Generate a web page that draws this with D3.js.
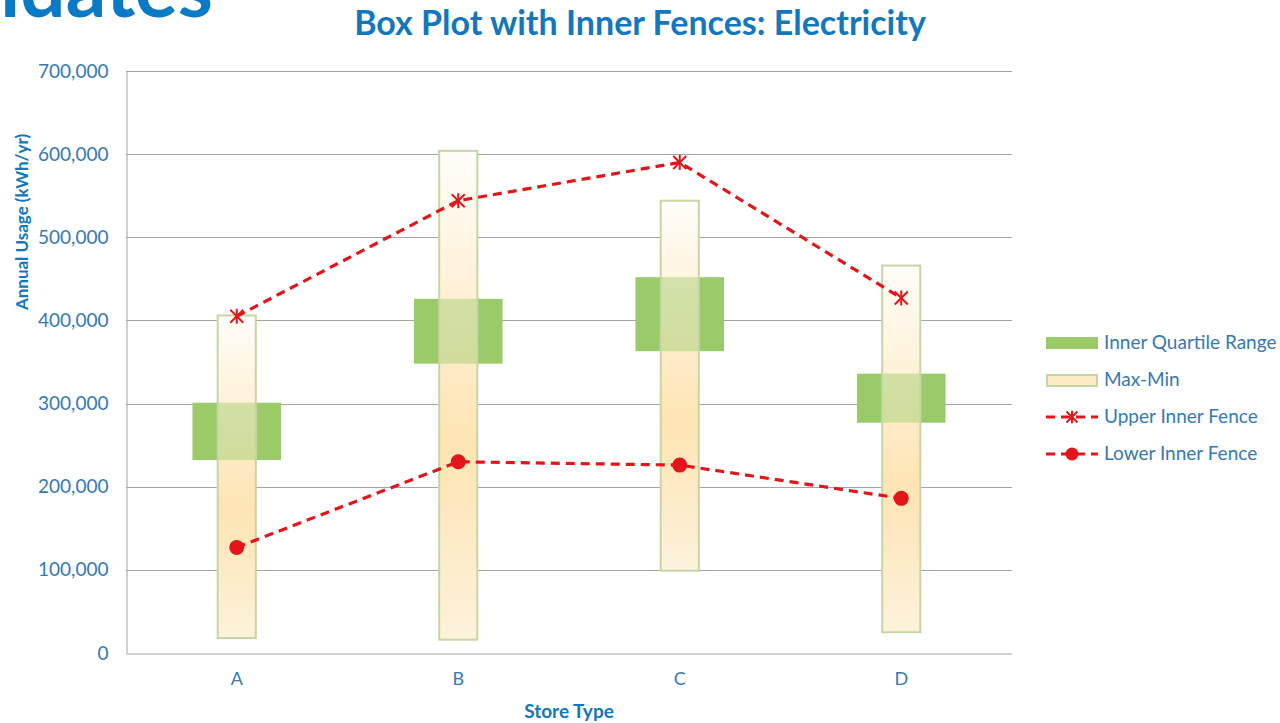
<!DOCTYPE html>
<html>
<head>
<meta charset="utf-8">
<script src="https://cdn.jsdelivr.net/npm/d3@7"></script>
<style>
  html, body { margin: 0; padding: 0; background: #fff; }
  svg { display: block; }
</style>
</head>
<body>
<svg id="chart" width="1280" height="723"></svg>
<script>
// Electricity usage by store type
const categories = ["A", "B", "C", "D"];
const maxValues = [406000, 604000, 544000, 466000];
const minValues = [18000, 16000, 99000, 25000];
const q3Values = [301000, 426000, 452000, 336000];
const q1Values = [232000, 348000, 363000, 277000];
const upperFence = [405000, 544000, 590000, 427000];
const lowerFence = [127000, 230000, 226000, 186000];
const yTicks = [0, 100000, 200000, 300000, 400000, 500000, 600000, 700000];

const svg = d3.select("#chart");
const font = "Lato, 'Open Sans', sans-serif";
const blue = "#3579b3";
const titleBlue = "#1277bd";

const margin = { left: 126, right: 1012, top: 71, bottom: 653 };

const x = d3.scaleBand().domain(categories).range([margin.left, margin.right]).padding(0);
const y = d3.scaleLinear().domain([0, 700000]).range([margin.bottom, margin.top]);

// Gradient for max-min bars
const defs = svg.append("defs");
const grad = defs.append("linearGradient").attr("id", "mmGrad")
  .attr("x1", 0).attr("y1", 0).attr("x2", 0).attr("y2", 1);
grad.append("stop").attr("offset", "0%").attr("stop-color", "#fffdf9");
grad.append("stop").attr("offset", "60%").attr("stop-color", "#fde4b2");
grad.append("stop").attr("offset", "100%").attr("stop-color", "#fdf2dc");

// Partial slide heading above the chart
svg.append("text")
  .attr("x", 213).attr("y", 17)
  .attr("text-anchor", "end")
  .attr("font-family", font).attr("font-weight", "bold")
  .attr("font-size", 80).attr("fill", "#0a79c6")
  .text("idates");

// Title
svg.append("text")
  .attr("x", 640).attr("y", 35)
  .attr("text-anchor", "middle")
  .attr("font-family", font).attr("font-weight", "bold")
  .attr("font-size", 34).attr("fill", titleBlue)
  .text("Box Plot with Inner Fences: Electricity");

// Gridlines
svg.append("g").selectAll("line").data(yTicks.filter(d => d > 0)).join("line")
  .attr("x1", margin.left).attr("x2", margin.right)
  .attr("y1", d => Math.round(y(d)) + 0.5).attr("y2", d => Math.round(y(d)) + 0.5)
  .attr("stroke", "#a3a3a3").attr("stroke-width", 1);

// Y axis
const yAxis = svg.append("g")
  .attr("transform", `translate(${margin.left + 0.5},0)`)
  .call(d3.axisLeft(y).tickValues(yTicks).tickFormat(d3.format(",")).tickSize(0).tickPadding(18));
yAxis.select(".domain").attr("stroke", "#a3a3a3");
yAxis.selectAll("text").attr("font-family", font).attr("font-size", 19).attr("fill", blue);

// X axis
const xAxis = svg.append("g")
  .attr("transform", `translate(0,${margin.bottom + 0.5})`)
  .call(d3.axisBottom(x).tickSize(0).tickPadding(19));
xAxis.select(".domain").attr("stroke", "#a3a3a3");
xAxis.selectAll("text").attr("font-family", font).attr("font-size", 18).attr("fill", blue);

// Axis titles
svg.append("text")
  .attr("transform", `translate(28,${222}) rotate(-90)`)
  .attr("text-anchor", "middle")
  .attr("font-family", font).attr("font-weight", "bold")
  .attr("font-size", 17).attr("fill", titleBlue)
  .text("Annual Usage (kWh/yr)");

svg.append("text")
  .attr("x", (margin.left + margin.right) / 2).attr("y", 718)
  .attr("text-anchor", "middle")
  .attr("font-family", font).attr("font-weight", "bold")
  .attr("font-size", 19).attr("fill", titleBlue)
  .text("Store Type");

const idx = d3.range(categories.length);
const bw = x.bandwidth();
const mmW = bw * 0.172;
const iqrW = bw * 0.40;
const cx = i => x(categories[i]) + bw / 2;

// Max-min bars (opaque base)
svg.append("g").selectAll("rect").data(idx).join("rect")
  .attr("x", i => cx(i) - mmW / 2).attr("width", mmW)
  .attr("y", i => y(maxValues[i])).attr("height", i => y(minValues[i]) - y(maxValues[i]))
  .attr("fill", "url(#mmGrad)");

// Inner quartile range boxes
svg.append("g").selectAll("rect").data(idx).join("rect")
  .attr("x", i => cx(i) - iqrW / 2).attr("width", iqrW)
  .attr("y", i => y(q3Values[i])).attr("height", i => y(q1Values[i]) - y(q3Values[i]))
  .attr("fill", "#9bcb68");

// Max-min bars overlay, letting the green show through
svg.append("g").selectAll("rect").data(idx).join("rect")
  .attr("x", i => cx(i) - mmW / 2).attr("width", mmW)
  .attr("y", i => y(maxValues[i])).attr("height", i => y(minValues[i]) - y(maxValues[i]))
  .attr("fill", "url(#mmGrad)").attr("fill-opacity", 0.55)
  .attr("stroke", "#c5d6a4").attr("stroke-width", 2);

// Fence lines
const red = "#e3151b";
const line = d3.line().x(d => cx(d.i)).y(d => y(d.v));

svg.append("path")
  .datum(idx.map(i => ({ i, v: upperFence[i] })))
  .attr("d", line).attr("fill", "none")
  .attr("stroke", red).attr("stroke-width", 3.2).attr("stroke-dasharray", "9,6");

svg.append("path")
  .datum(idx.map(i => ({ i, v: lowerFence[i] })))
  .attr("d", line).attr("fill", "none")
  .attr("stroke", red).attr("stroke-width", 3.2).attr("stroke-dasharray", "9,6");

// Asterisk markers for upper fence
function star(g, px, py, r) {
  const s = g.append("g").attr("transform", `translate(${px},${py})`)
    .attr("stroke", red).attr("stroke-width", 2);
  s.append("line").attr("x1", -r).attr("y1", -r).attr("x2", r).attr("y2", r);
  s.append("line").attr("x1", -r).attr("y1", r).attr("x2", r).attr("y2", -r);
  s.append("line").attr("x1", 0).attr("y1", -r * 1.15).attr("x2", 0).attr("y2", r * 1.15);
}
const stars = svg.append("g");
idx.forEach(i => star(stars, cx(i), y(upperFence[i]), 6.5));

// Circle markers for lower fence
svg.append("g").selectAll("circle").data(idx).join("circle")
  .attr("cx", i => cx(i)).attr("cy", i => y(lowerFence[i]))
  .attr("r", 7.5).attr("fill", red);

// Legend
const legend = svg.append("g");
const lx = 1046, lw = 52, tx = 1104;
const rows = [343, 380, 417, 454];
legend.append("rect").attr("x", lx).attr("y", rows[0] - 6).attr("width", lw).attr("height", 12)
  .attr("fill", "#9bcb68");
legend.append("rect").attr("x", lx + 1).attr("y", rows[1] - 5).attr("width", lw - 2).attr("height", 11)
  .attr("fill", "#fdebc6").attr("stroke", "#c5d6a4").attr("stroke-width", 2);
[rows[2], rows[3]].forEach(ry => {
  legend.append("line").attr("x1", lx).attr("x2", lx + lw).attr("y1", ry).attr("y2", ry)
    .attr("stroke", red).attr("stroke-width", 3.2).attr("stroke-dasharray", "9,6");
});
star(legend, lx + lw / 2, rows[2], 5.5);
legend.append("circle").attr("cx", lx + lw / 2).attr("cy", rows[3]).attr("r", 6.5).attr("fill", red);

const labels = ["Inner Quartile Range", "Max-Min", "Upper Inner Fence", "Lower Inner Fence"];
legend.selectAll("text").data(labels).join("text")
  .attr("x", tx).attr("y", (d, i) => rows[i] + 6)
  .attr("font-family", font).attr("font-size", 19).attr("fill", blue)
  .text(d => d);
</script>
</body>
</html>
